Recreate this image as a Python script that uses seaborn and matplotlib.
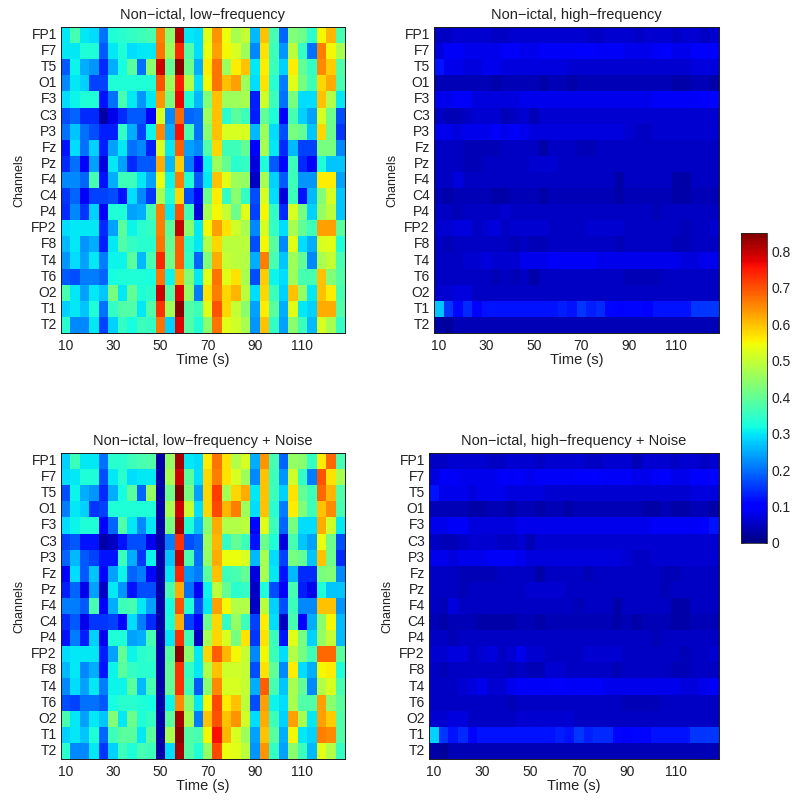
import matplotlib
matplotlib.use("Agg")
import matplotlib.pyplot as plt
import pandas as pd
import seaborn as sns

channels = ["FP1", "F7", "T5", "O1", "F3", "C3", "P3", "Fz", "Pz", "F4",
            "C4", "P4", "FP2", "F8", "T4", "T6", "O2", "T1", "T2"]
times = [10, 14, 18, 22, 26, 30, 34, 38, 42, 46, 50, 54, 58, 62, 66,
         70, 74, 78, 82, 86, 90, 94, 98, 102, 106, 110, 114, 118, 122, 126]
time_ticks = [10, 30, 50, 70, 90, 110]
cbar_ticks = [0, 0.1, 0.2, 0.3, 0.4, 0.5, 0.6, 0.7, 0.8]

low_freq = [
    [.30, .37, .30, .29, .20, .33, .34, .35, .36, .37, .66, .44, .81, .30, .29, .53, .64, .54, .47, .50, .26, .60, .37, .19, .43, .41, .34, .55, .61, .37],
    [.30, .30, .33, .33, .18, .30, .33, .29, .30, .30, .67, .46, .74, .38, .29, .54, .63, .55, .52, .46, .22, .57, .36, .23, .49, .35, .20, .66, .55, .47],
    [.18, .31, .25, .23, .14, .25, .32, .39, .20, .44, .79, .40, .84, .41, .25, .56, .67, .46, .56, .60, .30, .56, .36, .28, .56, .40, .35, .65, .59, .38],
    [.22, .30, .28, .16, .16, .33, .33, .33, .33, .33, .70, .46, .75, .48, .29, .55, .67, .60, .63, .46, .29, .57, .34, .21, .53, .42, .36, .58, .62, .37],
    [.29, .31, .33, .33, .12, .20, .37, .30, .23, .30, .64, .42, .77, .33, .26, .43, .60, .46, .46, .47, .13, .51, .36, .20, .42, .29, .29, .60, .48, .30],
    [.17, .19, .14, .14, .03, .08, .14, .18, .18, .10, .52, .22, .68, .19, .20, .46, .60, .34, .39, .36, .13, .40, .33, .09, .37, .28, .24, .52, .41, .17],
    [.20, .27, .20, .17, .13, .13, .35, .25, .16, .31, .65, .25, .76, .37, .20, .44, .60, .52, .52, .52, .26, .46, .29, .17, .42, .40, .27, .58, .41, .15],
    [.12, .29, .20, .28, .13, .24, .30, .20, .22, .13, .52, .30, .69, .24, .22, .38, .58, .36, .36, .40, .10, .47, .30, .14, .26, .16, .16, .42, .42, .22],
    [.14, .20, .10, .24, .07, .30, .24, .14, .18, .18, .62, .26, .59, .21, .11, .31, .46, .40, .34, .35, .07, .33, .18, .11, .36, .14, .10, .33, .27, .27],
    [.22, .22, .19, .37, .12, .25, .36, .36, .30, .24, .54, .31, .66, .33, .18, .30, .60, .53, .46, .45, .05, .47, .28, .18, .36, .23, .23, .56, .56, .24],
    [.15, .19, .09, .16, .16, .17, .12, .29, .22, .15, .47, .33, .58, .17, .11, .41, .56, .35, .44, .35, .17, .52, .29, .07, .36, .12, .26, .43, .52, .27],
    [.14, .22, .15, .28, .09, .33, .33, .24, .25, .37, .66, .30, .70, .36, .07, .47, .55, .50, .41, .53, .16, .55, .35, .14, .52, .42, .28, .45, .49, .27],
    [.29, .30, .30, .30, .14, .24, .39, .31, .34, .35, .66, .39, .80, .44, .30, .55, .63, .57, .51, .47, .22, .52, .35, .29, .47, .40, .36, .63, .63, .39],
    [.26, .30, .23, .25, .13, .30, .38, .35, .34, .34, .67, .40, .69, .34, .30, .48, .58, .49, .49, .49, .17, .55, .39, .22, .53, .29, .25, .52, .53, .33],
    [.23, .29, .24, .30, .21, .31, .31, .39, .26, .37, .74, .41, .69, .35, .19, .43, .62, .50, .49, .48, .25, .66, .37, .27, .46, .40, .22, .47, .50, .37],
    [.18, .17, .21, .21, .19, .32, .33, .33, .33, .32, .67, .31, .62, .43, .30, .53, .67, .53, .57, .47, .17, .59, .31, .29, .46, .37, .37, .60, .43, .38],
    [.37, .30, .24, .30, .27, .42, .30, .40, .33, .34, .79, .38, .78, .45, .21, .57, .66, .58, .61, .49, .29, .58, .36, .28, .60, .45, .30, .60, .56, .37],
    [.28, .30, .27, .33, .20, .35, .38, .38, .30, .38, .73, .46, .84, .38, .36, .53, .70, .58, .50, .44, .24, .56, .39, .25, .53, .30, .28, .62, .62, .38],
    [.34, .22, .22, .30, .16, .28, .35, .32, .36, .35, .67, .28, .78, .38, .33, .44, .67, .53, .51, .47, .23, .60, .35, .24, .44, .36, .26, .52, .47, .35],
]

low_freq_noise = [
    [.28, .36, .30, .30, .20, .34, .34, .36, .37, .38, .03, .45, .82, .30, .29, .56, .67, .57, .48, .52, .25, .64, .37, .19, .45, .44, .35, .56, .68, .37],
    [.29, .30, .33, .33, .17, .30, .34, .29, .30, .30, .03, .47, .79, .39, .29, .58, .66, .57, .52, .46, .22, .60, .36, .23, .51, .35, .21, .70, .57, .47],
    [.17, .31, .25, .23, .14, .25, .32, .39, .19, .45, .03, .41, .85, .42, .24, .58, .72, .47, .58, .62, .30, .60, .36, .28, .57, .40, .36, .68, .61, .38],
    [.21, .30, .28, .15, .16, .33, .33, .33, .33, .33, .03, .47, .79, .50, .29, .58, .71, .61, .66, .46, .29, .60, .34, .21, .56, .43, .36, .60, .65, .37],
    [.29, .31, .33, .33, .10, .19, .38, .30, .22, .30, .03, .42, .82, .33, .26, .44, .62, .48, .48, .49, .11, .53, .36, .19, .42, .29, .29, .62, .51, .30],
    [.16, .18, .12, .12, .03, .05, .12, .17, .17, .08, .03, .21, .73, .17, .19, .46, .61, .35, .40, .36, .12, .41, .33, .07, .37, .27, .24, .54, .41, .17],
    [.19, .26, .18, .16, .12, .12, .36, .25, .15, .31, .03, .27, .80, .37, .20, .45, .62, .54, .54, .52, .26, .47, .29, .16, .42, .40, .27, .60, .41, .14],
    [.10, .29, .18, .27, .11, .24, .31, .19, .21, .11, .03, .30, .74, .23, .21, .39, .60, .36, .37, .40, .07, .47, .30, .12, .26, .14, .14, .42, .43, .22],
    [.13, .19, .08, .24, .05, .30, .23, .12, .17, .17, .03, .37, .62, .20, .09, .31, .49, .40, .34, .35, .05, .33, .17, .09, .37, .13, .08, .33, .27, .27],
    [.21, .21, .18, .37, .10, .25, .36, .37, .30, .24, .03, .32, .70, .33, .17, .30, .63, .55, .48, .48, .05, .49, .28, .17, .36, .22, .22, .60, .60, .23],
    [.14, .18, .08, .15, .15, .16, .11, .29, .21, .14, .03, .33, .62, .16, .10, .41, .58, .35, .45, .36, .16, .56, .29, .05, .37, .11, .25, .44, .55, .26],
    [.12, .21, .13, .28, .08, .33, .33, .24, .25, .37, .03, .30, .73, .36, .05, .47, .58, .52, .42, .57, .15, .57, .36, .12, .53, .42, .28, .45, .50, .26],
    [.29, .30, .30, .30, .13, .24, .40, .31, .34, .35, .03, .39, .84, .44, .30, .58, .69, .61, .55, .50, .22, .55, .36, .29, .48, .42, .36, .68, .68, .39],
    [.26, .30, .22, .25, .12, .31, .39, .35, .34, .34, .03, .40, .73, .35, .30, .48, .60, .51, .51, .50, .17, .57, .40, .22, .56, .29, .25, .55, .56, .33],
    [.22, .29, .24, .30, .21, .31, .31, .39, .26, .37, .03, .40, .73, .36, .18, .44, .65, .52, .52, .50, .25, .69, .37, .27, .47, .40, .22, .48, .52, .37],
    [.17, .16, .20, .20, .18, .32, .34, .34, .33, .32, .03, .31, .65, .44, .30, .55, .71, .56, .60, .49, .17, .63, .31, .29, .47, .38, .38, .63, .44, .39],
    [.37, .30, .24, .30, .27, .43, .30, .41, .33, .35, .03, .39, .82, .47, .21, .60, .70, .60, .64, .51, .29, .62, .36, .28, .63, .47, .30, .63, .59, .38],
    [.28, .30, .27, .33, .19, .36, .39, .39, .30, .39, .03, .47, .84, .38, .37, .55, .76, .61, .52, .46, .24, .60, .39, .25, .55, .30, .28, .66, .65, .38],
    [.34, .22, .22, .30, .15, .28, .36, .33, .37, .36, .03, .29, .82, .38, .33, .45, .71, .54, .53, .49, .23, .64, .35, .24, .44, .36, .26, .53, .48, .35],
]

high_freq = [
    [.05, .05, .06, .06, .06, .06, .05, .05, .06, .06, .06, .06, .06, .06, .06, .06, .05, .05, .06, .06, .06, .05, .06, .06, .06, .05, .06, .06, .05, .06],
    [.07, .09, .09, .08, .08, .08, .08, .09, .09, .08, .08, .09, .09, .09, .09, .10, .10, .09, .09, .09, .08, .08, .08, .09, .10, .08, .08, .10, .10, .10],
    [.12, .08, .08, .07, .07, .08, .08, .07, .07, .07, .07, .07, .07, .07, .06, .06, .06, .06, .06, .06, .06, .06, .06, .06, .06, .06, .06, .07, .07, .07],
    [.04, .04, .04, .04, .04, .04, .03, .04, .04, .04, .04, .03, .04, .04, .03, .04, .04, .04, .04, .04, .04, .04, .04, .04, .04, .03, .03, .04, .04, .03],
    [.08, .08, .09, .09, .07, .07, .07, .07, .07, .08, .08, .08, .08, .08, .08, .08, .08, .08, .08, .08, .08, .08, .08, .09, .09, .09, .09, .09, .10, .11],
    [.05, .04, .04, .05, .06, .06, .06, .04, .05, .06, .04, .06, .06, .06, .06, .06, .06, .06, .06, .06, .06, .06, .06, .06, .06, .06, .06, .06, .06, .06],
    [.08, .08, .07, .08, .08, .08, .09, .08, .09, .08, .07, .07, .07, .07, .07, .07, .07, .07, .07, .07, .06, .05, .05, .06, .06, .06, .06, .06, .06, .06],
    [.05, .05, .05, .04, .04, .04, .04, .05, .05, .05, .05, .03, .05, .05, .05, .04, .04, .05, .05, .05, .05, .05, .05, .05, .05, .05, .05, .05, .05, .05],
    [.05, .05, .05, .04, .04, .05, .05, .05, .05, .05, .06, .06, .06, .05, .05, .05, .05, .05, .05, .05, .05, .05, .05, .05, .05, .05, .05, .05, .05, .05],
    [.05, .05, .07, .05, .05, .05, .05, .05, .05, .05, .05, .05, .05, .05, .05, .05, .05, .05, .05, .03, .05, .05, .05, .05, .05, .03, .03, .05, .05, .05],
    [.04, .03, .04, .04, .04, .04, .03, .03, .04, .04, .04, .03, .04, .04, .04, .04, .04, .04, .04, .03, .04, .04, .04, .04, .04, .03, .03, .04, .04, .04],
    [.05, .05, .04, .05, .05, .05, .05, .06, .05, .05, .05, .05, .05, .05, .05, .05, .05, .05, .05, .05, .05, .05, .05, .04, .05, .05, .05, .05, .05, .05],
    [.06, .06, .07, .07, .05, .06, .07, .05, .06, .06, .06, .06, .05, .05, .05, .05, .06, .06, .06, .06, .05, .05, .05, .05, .05, .05, .04, .05, .05, .06],
    [.05, .04, .05, .05, .05, .05, .05, .05, .04, .05, .04, .04, .05, .05, .05, .05, .05, .05, .05, .04, .05, .05, .05, .05, .05, .04, .04, .05, .05, .05],
    [.05, .05, .05, .06, .06, .07, .06, .06, .06, .08, .08, .08, .09, .09, .09, .09, .09, .08, .08, .08, .08, .08, .08, .08, .08, .08, .07, .07, .08, .08],
    [.05, .05, .05, .05, .05, .05, .04, .05, .04, .05, .03, .05, .05, .05, .05, .05, .05, .05, .05, .05, .04, .04, .04, .04, .05, .05, .05, .05, .05, .05],
    [.06, .06, .07, .07, .05, .05, .05, .05, .05, .05, .05, .05, .05, .05, .05, .05, .05, .05, .05, .05, .05, .05, .05, .05, .05, .05, .05, .05, .05, .05],
    [.27, .15, .11, .14, .10, .12, .12, .12, .12, .12, .12, .12, .12, .13, .12, .15, .13, .14, .11, .10, .11, .11, .10, .12, .12, .12, .12, .15, .15, .15],
    [.03, .02, .04, .04, .04, .04, .04, .04, .04, .04, .04, .04, .04, .04, .04, .04, .04, .04, .04, .04, .04, .04, .04, .04, .04, .04, .04, .04, .04, .04],
]

high_freq_noise = [
    [.05, .05, .06, .06, .06, .06, .05, .05, .06, .06, .06, .05, .06, .06, .06, .06, .05, .05, .06, .06, .06, .04, .06, .06, .06, .05, .06, .06, .05, .06],
    [.07, .09, .09, .08, .08, .08, .08, .09, .09, .09, .08, .09, .09, .09, .09, .10, .10, .10, .09, .09, .09, .08, .08, .09, .10, .08, .08, .10, .10, .11],
    [.12, .08, .08, .08, .07, .08, .08, .08, .07, .07, .07, .07, .06, .06, .06, .06, .06, .06, .06, .06, .06, .06, .06, .06, .06, .06, .06, .07, .07, .07],
    [.04, .04, .04, .04, .03, .03, .04, .04, .03, .04, .04, .03, .04, .04, .03, .04, .04, .04, .04, .04, .04, .04, .03, .03, .04, .03, .03, .04, .04, .03],
    [.08, .08, .09, .09, .07, .07, .07, .07, .07, .08, .08, .08, .08, .08, .08, .08, .08, .08, .08, .08, .08, .08, .08, .09, .09, .09, .09, .09, .10, .12],
    [.05, .04, .04, .05, .06, .06, .06, .05, .05, .06, .04, .06, .06, .06, .06, .06, .06, .06, .06, .06, .06, .06, .06, .06, .06, .06, .06, .06, .06, .06],
    [.08, .08, .07, .08, .08, .08, .09, .09, .09, .08, .07, .07, .07, .07, .07, .07, .07, .07, .07, .07, .06, .05, .05, .06, .06, .06, .06, .06, .06, .06],
    [.05, .05, .05, .04, .04, .04, .04, .05, .05, .05, .05, .03, .05, .05, .05, .05, .04, .05, .05, .05, .05, .05, .05, .05, .04, .04, .05, .05, .05, .05],
    [.05, .05, .05, .04, .05, .05, .05, .05, .05, .05, .06, .06, .06, .06, .05, .05, .05, .05, .05, .05, .05, .05, .05, .05, .04, .05, .05, .05, .05, .05],
    [.05, .04, .07, .05, .05, .05, .05, .05, .05, .05, .05, .05, .05, .05, .05, .04, .05, .05, .05, .03, .05, .05, .05, .05, .05, .03, .03, .05, .05, .05],
    [.04, .03, .04, .04, .04, .03, .03, .03, .03, .04, .04, .03, .04, .04, .04, .04, .04, .04, .04, .03, .04, .03, .04, .04, .04, .03, .03, .04, .04, .04],
    [.05, .05, .04, .05, .05, .05, .05, .05, .05, .05, .05, .05, .05, .05, .05, .05, .05, .05, .05, .05, .05, .05, .05, .04, .05, .05, .05, .05, .05, .05],
    [.06, .06, .07, .07, .05, .06, .07, .05, .06, .08, .06, .06, .05, .05, .05, .05, .06, .06, .06, .06, .05, .05, .05, .05, .05, .05, .04, .05, .05, .06],
    [.05, .04, .05, .05, .05, .05, .05, .05, .04, .05, .04, .04, .06, .06, .05, .05, .05, .05, .05, .04, .05, .05, .05, .05, .05, .04, .04, .05, .05, .05],
    [.05, .05, .05, .06, .07, .08, .06, .06, .08, .09, .09, .09, .09, .10, .09, .09, .09, .09, .08, .08, .08, .08, .08, .08, .08, .08, .07, .07, .08, .09],
    [.05, .05, .05, .05, .05, .05, .05, .05, .04, .05, .05, .05, .05, .05, .05, .05, .05, .05, .05, .05, .04, .04, .04, .04, .05, .05, .05, .05, .05, .05],
    [.06, .06, .07, .07, .05, .05, .05, .05, .05, .06, .06, .06, .06, .06, .06, .05, .05, .05, .05, .05, .05, .05, .05, .05, .05, .05, .05, .05, .05, .05],
    [.28, .15, .12, .14, .10, .12, .12, .12, .12, .12, .12, .12, .12, .13, .12, .15, .13, .14, .14, .11, .10, .11, .11, .12, .12, .12, .12, .15, .15, .15],
    [.03, .02, .04, .04, .04, .04, .04, .04, .04, .04, .04, .04, .04, .04, .04, .04, .04, .04, .04, .04, .04, .04, .04, .04, .04, .04, .04, .04, .04, .04],
]

sns.set_style("white")
plt.rcParams["font.family"] = ["Liberation Sans", "DejaVu Sans"]

W, H = 800, 800


def box(x0, y0, x1, y1):
    # pixel box (top-left origin) to figure fractions
    return [x0 / W, 1 - y1 / H, (x1 - x0) / W, (y1 - y0) / H]


def draw_panel(fig, values, title, rect):
    ax = fig.add_axes(box(*rect))
    df = pd.DataFrame(values, index=channels, columns=times)
    sns.heatmap(df, ax=ax, cmap="jet", vmin=0, vmax=0.85, cbar=False,
                xticklabels=False, yticklabels=True)
    ax.set_xticks([times.index(t) + 0.5 for t in time_ticks])
    ax.set_xticklabels(time_ticks, rotation=0, fontsize=10)
    ax.set_yticklabels(channels, rotation=0, fontsize=10)
    ax.tick_params(direction="in", top=True, right=True, length=3, width=0.6,
                   color="#111111", labelcolor="#222222", pad=3)
    ax.tick_params(axis="x", pad=4)
    ax.set_xlabel("Time (s)", fontsize=10.5, color="#222222", labelpad=0)
    ax.set_ylabel("Channels", fontsize=9, color="#222222", labelpad=4)
    ax.set_title(title, fontsize=10.5, color="#222222", pad=6)
    for spine in ax.spines.values():
        spine.set_visible(True)
        spine.set_linewidth(0.7)
        spine.set_color("#1a1a1a")
    return ax


fig = plt.figure(figsize=(8, 8), dpi=100)

draw_panel(fig, low_freq, "Non\u2212ictal, low\u2212frequency", (61, 27, 345, 333))
draw_panel(fig, high_freq, "Non\u2212ictal, high\u2212frequency", (434, 27, 719, 333))
draw_panel(fig, low_freq_noise, "Non\u2212ictal, low\u2212frequency + Noise", (61, 453, 345, 759))
ax4 = draw_panel(fig, high_freq_noise, "Non\u2212ictal, high\u2212frequency + Noise", (429, 453, 719, 759))

# shared colour bar, drawn from the last heatmap's mesh
cax = fig.add_axes(box(741, 233, 767, 543))
cb = fig.colorbar(ax4.collections[0], cax=cax)
cb.set_ticks(cbar_ticks)
cb.set_ticklabels(["0", "0.1", "0.2", "0.3", "0.4", "0.5", "0.6", "0.7", "0.8"])
cax.tick_params(direction="in", left=True, right=True, length=2.5, width=0.5,
                labelsize=10, color="#222222", labelcolor="#222222", pad=3)
cb.outline.set_linewidth(0.6)

fig.savefig("out.png", dpi=100)
plt.close(fig)
